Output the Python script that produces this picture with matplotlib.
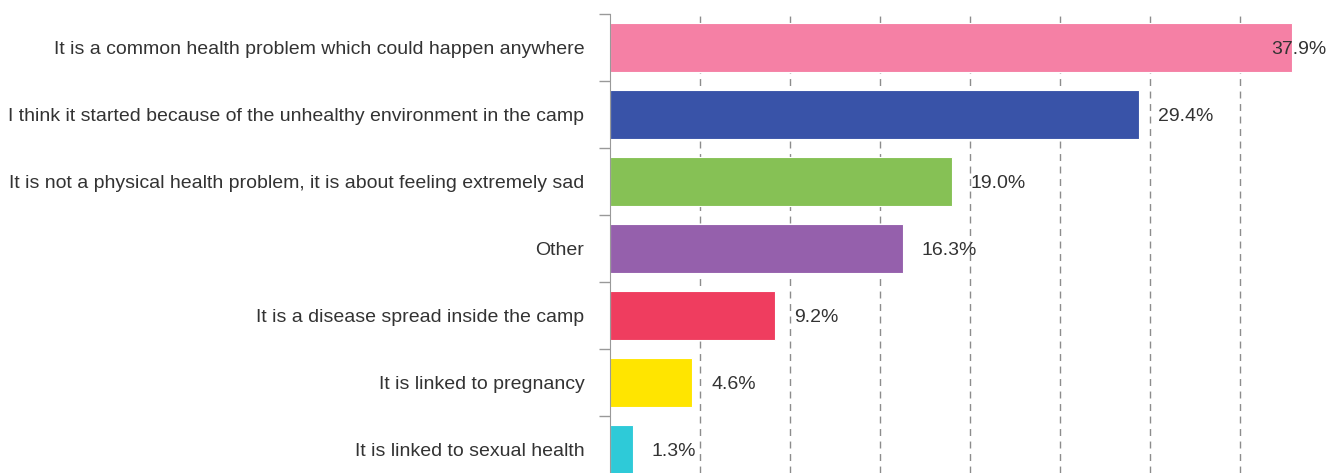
import matplotlib
matplotlib.use('Agg')
import matplotlib.pyplot as plt

# данные с картинки
labels = [
    'It is a common health problem which could happen anywhere',
    'I think it started because of the unhealthy environment in the camp',
    'It is not a physical health problem, it is about feeling extremely sad',
    'Other',
    'It is a disease spread inside the camp',
    'It is linked to pregnancy',
    'It is linked to sexual health',
]
values = [37.9, 29.4, 19.0, 16.3, 9.2, 4.6, 1.3]
colors = ['#F580A5', '#3953A8', '#86C155', '#9560AC', '#EF3D5F', '#FFE500', '#2ECAD8']

plt.rcParams['font.family'] = ['Liberation Sans', 'DejaVu Sans']

fig = plt.figure(figsize=(13.36, 4.73), dpi=100)
ax = fig.add_axes([609.5 / 1336, 0, 1 - 609.5 / 1336, (473 - 14) / 473])

pos = list(range(len(values)))
ax.barh(pos, values, height=0.73, color=colors, edgecolor='white', linewidth=0.8, zorder=2)

xmax = 40.36
ax.set_xlim(0, xmax)
ax.set_ylim(6.35, -0.5)

# подписи значений
for i, v in enumerate(values):
    ax.text(min(v + 1.05, 36.75), i, f'{v:.1f}%', va='center_baseline', ha='left',
            fontsize=14, color='#333333', zorder=3)

# сетка
for g in range(5, 40, 5):
    ax.axvline(g, color='#8c8c8c', linestyle=(0, (5, 4)), linewidth=1, zorder=1)

ax.set_xticks([])
ax.set_yticks([p - 0.5 for p in pos])
ax.set_yticklabels([])
ax.tick_params(axis='y', which='major', length=8, color='#999999', width=1)
ax.set_yticks(pos, minor=True)
ax.set_yticklabels(labels, minor=True, fontsize=14, color='#333333', va='center_baseline')
ax.tick_params(axis='y', which='minor', length=0, pad=18)

for s in ['top', 'right', 'bottom']:
    ax.spines[s].set_visible(False)
ax.spines['left'].set_color('#999999')

fig.savefig('out.png', dpi=100)
